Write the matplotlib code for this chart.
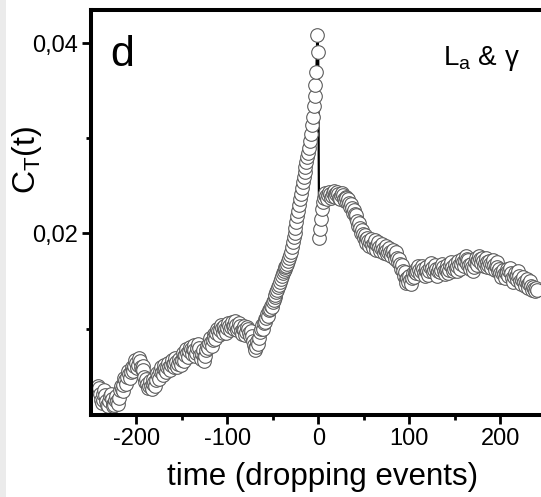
import numpy as np
import matplotlib
matplotlib.use("Agg")
import matplotlib.pyplot as plt
from matplotlib.patches import Rectangle
from matplotlib.ticker import FixedLocator, FuncFormatter

plt.rcParams["font.family"] = ["Liberation Sans", "DejaVu Sans"]
plt.rcParams["mathtext.fontset"] = "custom"
plt.rcParams["mathtext.rm"] = "Liberation Sans"
plt.rcParams["mathtext.it"] = "Liberation Sans:italic"
plt.rcParams["axes.unicode_minus"] = False

# Correlation C_T(t) around the dropping event, in units of 1e-4
time_before = np.arange(-243, 1)          # t = -243 ... 0
c_before = [
    36, 40, 37, 31, 25, 22, 25, 31, 35, 30,
    24, 20, 19, 24, 29, 31, 26, 21, 18, 20,
    25, 29, 24, 21, 27, 35, 40, 36, 34, 41,
    48, 46, 42, 49, 55, 52, 48, 54, 60, 57,
    55, 61, 67, 64, 58, 62, 69, 66, 60, 57,
    61, 56, 49, 44, 47, 42, 37, 40, 45, 39,
    36, 42, 47, 44, 40, 46, 53, 50, 47, 55,
    59, 54, 51, 57, 62, 58, 54, 60, 64, 59,
    56, 62, 67, 63, 59, 64, 69, 65, 60, 63,
    68, 65, 62, 67, 74, 71, 66, 72, 78, 74,
    70, 76, 81, 78, 73, 78, 83, 77, 71, 74,
    80, 84, 79, 72, 68, 73, 77, 70, 66, 71,
    77, 82, 79, 85, 90, 86, 82, 88, 94, 91,
    89, 95, 100, 97, 93, 98, 104, 101, 95, 99,
    103, 99, 95, 101, 106, 103, 98, 102, 107, 103,
    99, 104, 108, 104, 98, 101, 106, 103, 97, 94,
    99, 103, 98, 93, 96, 102, 100, 95, 92, 97,
    92, 87, 83, 79, 77, 81, 87, 84, 90, 96,
    100, 104, 100, 106, 110, 107, 111, 115, 113, 119,
    121, 124, 123, 128, 130, 133, 135, 138, 141, 144,
    146, 149, 152, 155, 158, 161, 163, 165, 166, 168,
    171, 174, 177, 181, 186, 191, 196, 201, 206, 212,
    218, 224, 230, 236, 242, 248, 254, 259, 265, 270,
    275, 280, 285, 290, 297, 305, 314, 323, 334, 345,
    356, 370, 409, 391,
]
time_after = np.arange(1, 241)            # t = 1 ... 240
c_after = [
    195, 205, 215, 226, 233, 237, 240, 243, 239, 236,
    240, 244, 241, 237, 239, 243, 245, 241, 238, 241,
    244, 241, 237, 236, 240, 243, 240, 236, 234, 238,
    237, 233, 236, 232, 228, 231, 227, 222, 225, 220,
    216, 219, 213, 208, 211, 206, 201, 204, 199, 195,
    198, 194, 190, 195, 192, 187, 191, 194, 188, 185,
    190, 193, 187, 183, 188, 191, 186, 182, 185, 189,
    184, 179, 183, 187, 182, 178, 181, 185, 180, 176,
    180, 183, 177, 173, 178, 181, 174, 170, 173, 168,
    163, 167, 160, 155, 159, 152, 148, 153, 149, 155,
    151, 147, 153, 158, 154, 159, 163, 158, 161, 166,
    162, 157, 161, 166, 163, 158, 155, 160, 165, 161,
    156, 160, 165, 169, 164, 159, 162, 167, 163, 158,
    155, 160, 164, 159, 162, 168, 165, 160, 157, 162,
    167, 163, 158, 162, 167, 170, 165, 160, 163, 168,
    164, 161, 166, 171, 167, 163, 168, 173, 170, 166,
    171, 176, 173, 168, 172, 167, 163, 168, 165, 161,
    165, 170, 174, 171, 167, 172, 176, 173, 169, 174,
    171, 166, 169, 174, 170, 165, 167, 171, 168, 164,
    168, 172, 167, 162, 166, 170, 165, 160, 163, 158,
    154, 158, 162, 157, 153, 158, 163, 159, 155, 160,
    164, 158, 153, 149, 154, 158, 155, 151, 156, 161,
    155, 150, 147, 151, 154, 149, 145, 149, 152, 147,
    143, 147, 150, 145, 141, 144, 142, 139, 143, 140,
]
UNIT = 1e-4

x_major = [-200, -100, 0, 100, 200]
x_minor = [-150, -50, 50, 150]
y_major = [0.02, 0.04]
y_minor = [0.01, 0.03]

t = np.concatenate([time_before, time_after])
c = np.concatenate([c_before, c_after]) * UNIT

W, H = 541, 497
fig = plt.figure(figsize=(W / 100, H / 100), dpi=100)
fig.patch.set_facecolor("white")
fig.patches.append(Rectangle((0, 0), 6 / W, 1, transform=fig.transFigure,
                             facecolor="#ebebeb", edgecolor="none", zorder=0))

left_px, right_px, top_px, bottom_px = 90.7, 545.7, 9.5, 415.3
ax = fig.add_axes([left_px / W, 1 - bottom_px / H,
                   (right_px - left_px) / W, (bottom_px - top_px) / H])

ax.plot(t, c, "-", color="black", lw=1.6,
        marker="o", markersize=9.8, markerfacecolor="white",
        markeredgecolor="#5c5c5c", markeredgewidth=0.8, clip_on=True)

ax.set_xlim(-250, 250)
ax.set_ylim(0.00087, 0.04356)

for side in ("left", "bottom", "top"):
    ax.spines[side].set_linewidth(2.9)
ax.spines["right"].set_visible(False)

ax.xaxis.set_major_locator(FixedLocator(x_major))
ax.xaxis.set_minor_locator(FixedLocator(x_minor))
ax.yaxis.set_major_locator(FixedLocator(y_major))
ax.yaxis.set_minor_locator(FixedLocator(y_minor))
ax.yaxis.set_major_formatter(FuncFormatter(lambda v, p: f"{v:.2f}".replace(".", ",")))
ax.xaxis.set_major_formatter(FuncFormatter(lambda v, p: f"{v:.0f}"))

ax.tick_params(which="major", direction="out", length=6.5, width=2.0,
               labelsize=17, pad=3)
ax.tick_params(which="minor", direction="out", length=3.8, width=2.0)
ax.tick_params(top=False, right=False, which="both")

fig.text(323 / W, 1 - 485 / H, "time (dropping events)", fontsize=22.5,
         ha="center", va="baseline")
fig.text(27 / W, 1 - 160 / H, r"C$_\mathrm{T}$(t)", fontsize=23,
         rotation=90, ha="center", va="center")
fig.text(110 / W, 1 - 66 / H, "d", fontsize=31, ha="left", va="baseline")
fig.text(443 / W, 1 - 65 / H, r"L$_\mathrm{a}$ & γ", fontsize=20,
         ha="left", va="baseline")

fig.savefig("out.png", dpi=100)
